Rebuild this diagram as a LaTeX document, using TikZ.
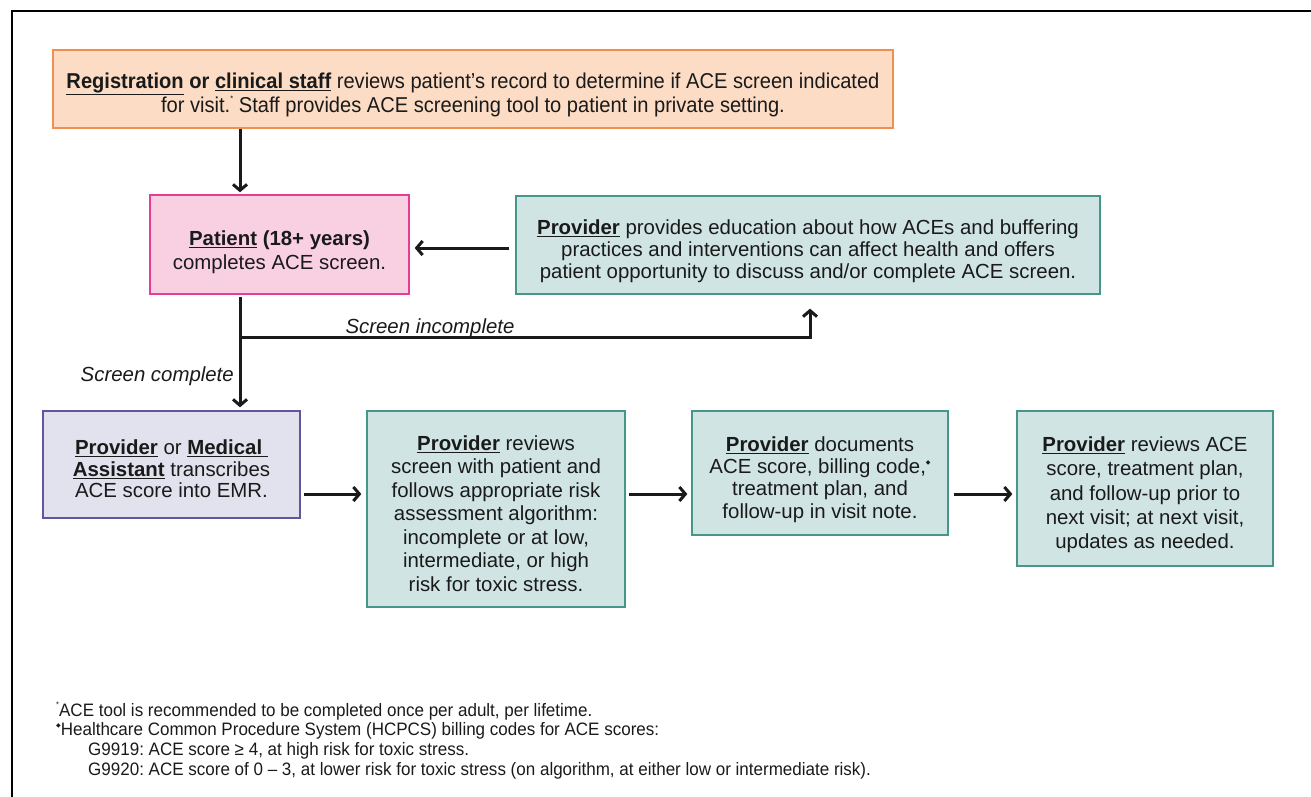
\documentclass[tikz,border=0pt]{standalone}
\usepackage{fontspec}
\setmainfont{Liberation Sans}
\newfontfamily\condfont[FakeStretch=0.935]{Liberation Sans}
\newfontfamily\fnfont[FakeStretch=0.945]{Liberation Sans}
\newfontfamily\symfont{DejaVu Sans}
\usetikzlibrary{arrows.meta,calc}
\frenchspacing
\definecolor{orfill}{HTML}{FCDCC4}
\definecolor{orline}{HTML}{F0904F}
\definecolor{pkfill}{HTML}{F9D0E2}
\definecolor{pkline}{HTML}{E63C96}
\definecolor{tlfill}{HTML}{D0E4E4}
\definecolor{tlline}{HTML}{46968C}
\definecolor{pufill}{HTML}{E2E1EE}
\definecolor{puline}{HTML}{5F55A0}
\definecolor{ink}{HTML}{1A1A1A}
\newcommand{\ulb}[1]{\underline{\textbf{#1}}}
\newcommand{\fnmark}{\raisebox{0.5em}{\fontsize{8}{8}\selectfont *}}
\newcommand{\dia}{\raisebox{0.45em}{\symfont\fontsize{6}{6}\selectfont ◆}}
\begin{document}
\begin{tikzpicture}[x=1pt,y=-1pt,
  box/.style={draw, line width=1.3pt, inner sep=0pt},
  teal/.style={box, draw=tlline, fill=tlfill},
  txt/.style={align=center, inner sep=0pt, text=ink},
  arr/.style={line width=3pt, draw=ink, -{Straight Barb[length=6pt,width=14pt]}},
  conn/.style={line width=3pt, draw=ink},
  lbl/.style={font=\itshape\fontsize{20.4}{22}\selectfont, text=ink, inner sep=0pt},
  fn/.style={font=\fnfont\fontsize{18}{20}\selectfont, text=ink, inner sep=0pt, anchor=west}]
\useasboundingbox (0,0) rectangle (1311,797);
\draw[line width=2.2pt] (12,797) -- (12,11) -- (1311,11);

% boxes
\node[box, draw=orline, fill=orfill, minimum width=840pt, minimum height=78pt] (top) at (473,89) {};
\node[box, draw=pkline, fill=pkfill, minimum width=259pt, minimum height=99pt] (patient) at (279.5,244.5) {};
\node[teal, minimum width=584pt, minimum height=98pt] (edu) at (808,245) {};
\node[box, draw=puline, fill=pufill, minimum width=257pt, minimum height=107pt] (ma) at (171.5,464.5) {};
\node[teal, minimum width=258pt, minimum height=196pt] (rev) at (496,509) {};
\node[teal, minimum width=256pt, minimum height=124pt] (doc) at (820,473) {};
\node[teal, minimum width=256pt, minimum height=155pt] (ace) at (1145,488.5) {};

% texts
\node[txt, font=\condfont\fontsize{21.5}{24}\selectfont] (topT) at (473,95)
  {\ulb{Registration} \textbf{or} \ulb{clinical staff} reviews patient’s record to determine if ACE screen indicated\\
   for visit.\fnmark{} Staff provides ACE screening tool to patient in private setting.};
\node[txt, font=\fontsize{20.4}{24}\selectfont] (patientT) at (279.5,252)
  {\ulb{Patient} \textbf{(18+ years)}\\completes ACE screen.};
\node[txt, font=\fontsize{20.4}{22}\selectfont] (eduT) at (808,251)
  {\ulb{Provider} provides education about how ACEs and buffering\\
   practices and interventions can affect health and offers\\
   patient opportunity to discuss and/or complete ACE screen.};
\node[txt, font=\fontsize{20.4}{21.5}\selectfont] (maT) at (171.5,469)
  {\ulb{Provider} or \ulb{Medical }\\\ulb{Assistant} transcribes\\ACE score into EMR.};
\node[txt, font=\fontsize{20.4}{23.5}\selectfont] (revT) at (496,513.5)
  {\ulb{Provider} reviews\\screen with patient and\\follows appropriate risk\\assessment algorithm:\\incomplete or at low,\\intermediate, or high\\risk for toxic stress.};
\node[txt, font=\fontsize{20.4}{22.3}\selectfont] (docT) at (820,479.5)
  {\ulb{Provider} documents\\ACE score, billing code,\dia\\treatment plan, and\\follow-up in visit note.};
\node[txt, font=\fontsize{20.4}{24.3}\selectfont] (aceT) at (1145,495)
  {\ulb{Provider} reviews ACE\\score, treatment plan,\\and follow-up prior to\\next visit; at next visit,\\updates as needed.};

\coordinate (xc) at (240,0);
\coordinate (br) at (240,337);
\coordinate (xu) at (810,0);
\coordinate (yr) at (0,494);
\coordinate (ye) at (0,248);

\draw[arr, shorten >=2pt] (top.south -| xc) -- (patient.north -| xc);
\draw[arr, shorten <=6pt, shorten >=5pt] (edu.west |- ye) -- (patient.east |- ye);
\draw[conn, shorten <=2pt] (patient.south -| xc) -- (br);
\draw[arr, shorten >=3pt] (br) -- (ma.north -| xc);
\draw[arr, shorten >=14pt, line join=miter] (br) -| (edu.south -| xu);
\draw[arr, shorten <=3pt, shorten >=5pt] (ma.east |- yr) -- (rev.west |- yr);
\draw[arr, shorten <=3pt, shorten >=4pt] (rev.east |- yr) -- (doc.west |- yr);
\draw[arr, shorten <=5pt, shorten >=4pt] (doc.east |- yr) -- (ace.west |- yr);

\node[lbl] (linc) at (430,328) {Screen incomplete};
\node[lbl, anchor=east] (lcomp) at (234,376) {Screen complete};

\node[fn] (f1) at (56,711) {\fnmark ACE tool is recommended to be completed once per adult, per lifetime.};
\node[fn] (f2) at (56,731) {\dia Healthcare Common Procedure System (HCPCS) billing codes for ACE scores:};
\node[fn] (f3) at (88,751) {G9919: ACE score ≥ 4, at high risk for toxic stress.};
\node[fn] (f4) at (88,771) {G9920: ACE score of 0 – 3, at lower risk for toxic stress (on algorithm, at either low or intermediate risk).};
\end{tikzpicture}
\end{document}
